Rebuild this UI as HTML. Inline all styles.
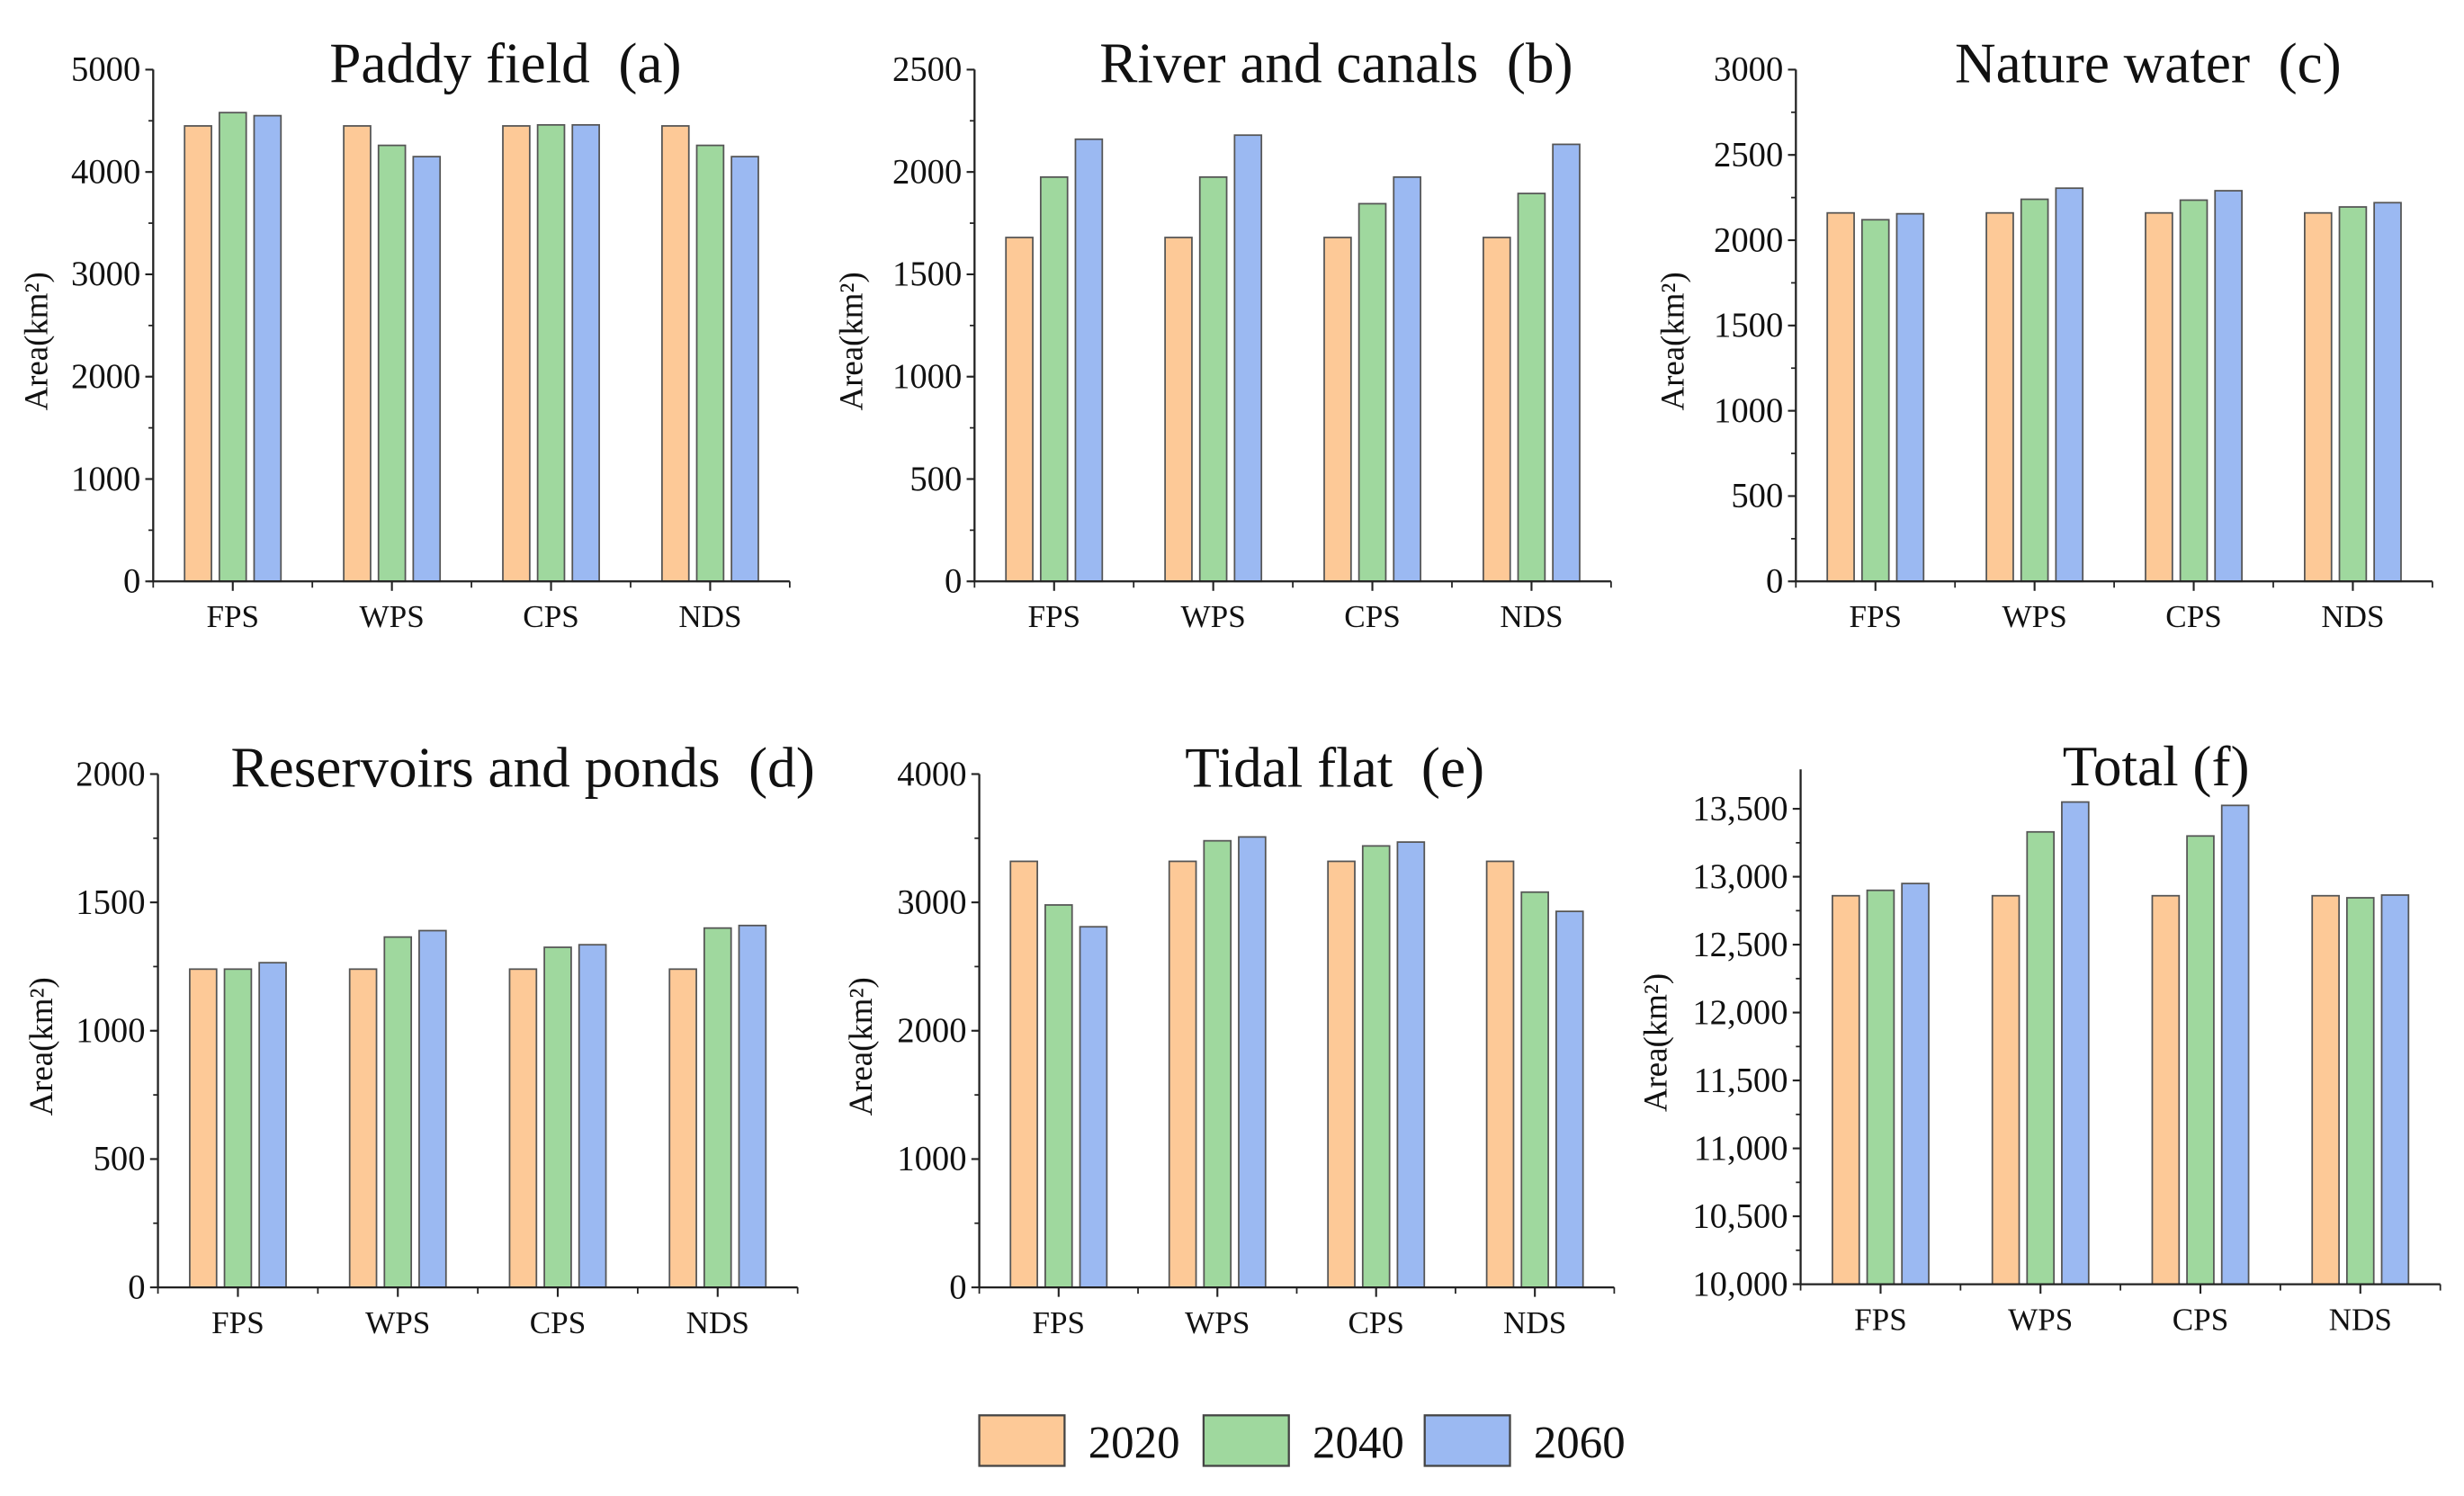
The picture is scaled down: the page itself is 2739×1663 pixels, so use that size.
<!DOCTYPE html>
<html><head><meta charset="utf-8"><style>
html,body{margin:0;padding:0;background:#fff;}
svg{display:block;font-family:"Liberation Serif",serif;}
</style></head><body>
<svg id="chart" width="2739" height="1663" viewBox="0 0 1560 947" xmlns="http://www.w3.org/2000/svg"></svg>
<script>
const categories = ["FPS","WPS","CPS","NDS"];
const seriesNames = ["2020","2040","2060"];
const colors = ["#fdc997","#9fd89e","#9bb9f2"];

const paddy2020 = [4450,4450,4450,4450];
const paddy2040 = [4580,4260,4460,4260];
const paddy2060 = [4550,4150,4460,4150];
const river2020 = [1680,1680,1680,1680];
const river2040 = [1975,1975,1845,1895];
const river2060 = [2160,2180,1975,2135];
const nature2020 = [2160,2160,2160,2160];
const nature2040 = [2120,2240,2235,2195];
const nature2060 = [2155,2305,2290,2220];
const reservoir2020 = [1240,1240,1240,1240];
const reservoir2040 = [1240,1365,1325,1400];
const reservoir2060 = [1265,1390,1335,1410];
const tidal2020 = [3320,3320,3320,3320];
const tidal2040 = [2980,3480,3440,3080];
const tidal2060 = [2810,3510,3470,2930];
const total2020 = [12860,12860,12860,12860];
const total2040 = [12900,13330,13300,12845];
const total2060 = [12950,13550,13525,12865];

const ticksA = ["0","1000","2000","3000","4000","5000"];
const ticksB = ["0","500","1000","1500","2000","2500"];
const ticksC = ["0","500","1000","1500","2000","2500","3000"];
const ticksD = ["0","500","1000","1500","2000"];
const ticksE = ["0","1000","2000","3000","4000"];
const ticksF = ["10,000","10,500","11,000","11,500","12,000","12,500","13,000","13,500"];

const panels = [
 {name:"paddy-field",title:"Paddy field  (a)",x0:97,x1:500,yTop:44,yBot:368,min:0,max:5000,step:1000,minor:500,ticks:ticksA,data:[paddy2020,paddy2040,paddy2060],axisTop:44,ylabX:30,tx:320},
 {name:"river-canals",title:"River and canals  (b)",x0:617,x1:1020,yTop:44,yBot:368,min:0,max:2500,step:500,minor:250,ticks:ticksB,data:[river2020,river2040,river2060],axisTop:44,ylabX:546,tx:846},
 {name:"nature-water",title:"Nature water  (c)",x0:1137,x1:1540,yTop:44,yBot:368,min:0,max:3000,step:500,minor:250,ticks:ticksC,data:[nature2020,nature2040,nature2060],axisTop:44,ylabX:1066,tx:1360},
 {name:"reservoirs-ponds",title:"Reservoirs and ponds  (d)",x0:100,x1:505,yTop:490,yBot:815,min:0,max:2000,step:500,minor:250,ticks:ticksD,data:[reservoir2020,reservoir2040,reservoir2060],axisTop:490,ylabX:33,tx:331},
 {name:"tidal-flat",title:"Tidal flat  (e)",x0:620,x1:1022,yTop:490,yBot:815,min:0,max:4000,step:1000,minor:500,ticks:ticksE,data:[tidal2020,tidal2040,tidal2060],axisTop:490,ylabX:552,tx:845},
 {name:"total",title:"Total (f)",x0:1140,x1:1545,yTop:512,yBot:813,min:10000,max:13500,step:500,minor:250,ticks:ticksF,data:[total2020,total2040,total2060],axisTop:487,ylabX:1055,tx:1365}
];

const svg = document.getElementById('chart');
const NS = "http://www.w3.org/2000/svg";
function mk(tag, attrs, parent){
  const e = document.createElementNS(NS, tag);
  for (const k in attrs) e.setAttribute(k, attrs[k]);
  parent.appendChild(e);
  return e;
}

panels.forEach(p => {
  const g = mk('g', {}, svg);
  
  
  const yScale = v => p.yBot - (v - p.min) / (p.max - p.min) * (p.yBot - p.yTop);
  const bw = (p.x1 - p.x0) / categories.length;
  const xCenter = i => p.x0 + bw * (i + 0.5);
  categories.forEach((c, i) => {
    p.data.forEach((arr, s) => {
      const cx = xCenter(i) + (s - 1) * 22;
      const y = yScale(arr[i]);
      const r = mk('rect', {x: cx - 8.5, y: y, width: 17, height: p.yBot - y, fill: colors[s], stroke: '#555', 'stroke-width': 1}, g);
      
      
    });
  });
  const ya = mk('line', {x1: p.x0, y1: p.axisTop, x2: p.x0, y2: p.yBot, stroke: '#222', 'stroke-width': 1.3}, g);
  
  
  const xa = mk('line', {x1: p.x0, y1: p.yBot, x2: p.x1, y2: p.yBot, stroke: '#222', 'stroke-width': 1.3}, g);
  
  
  for (let v = p.min; v <= p.max + 1e-6; v += p.minor) {
    const y = yScale(v);
    mk('line', {x1: p.x0 - 3, y1: y, x2: p.x0, y2: y, stroke: '#222', 'stroke-width': 1}, g);
  }
  p.ticks.forEach((t, k) => {
    const v = p.min + k * p.step;
    const y = yScale(v);
    mk('line', {x1: p.x0 - 5, y1: y, x2: p.x0, y2: y, stroke: '#222', 'stroke-width': 1.2}, g);
    const tl = mk('text', {x: p.x0 - 8, y: y + 7, 'font-size': 22, 'text-anchor': 'end', fill: '#111'}, g);
    tl.textContent = t;
    
    
  });
  for (let i = 0; i <= categories.length; i++) {
    const x = p.x0 + bw * i;
    mk('line', {x1: x, y1: p.yBot, x2: x, y2: p.yBot + 4, stroke: '#222', 'stroke-width': 1}, g);
  }
  categories.forEach((c, i) => {
    mk('line', {x1: xCenter(i), y1: p.yBot, x2: xCenter(i), y2: p.yBot + 6, stroke: '#222', 'stroke-width': 1.2}, g);
    const xl = mk('text', {x: xCenter(i), y: p.yBot + 29, 'font-size': 20, 'text-anchor': 'middle', fill: '#111'}, g);
    xl.textContent = c;
    
    
  });
  const ymid = (p.axisTop + p.yBot) / 2 + 10;
  const yl = mk('text', {x: p.ylabX, y: ymid, 'font-size': 21, 'text-anchor': 'middle', fill: '#111', transform: 'rotate(-90 ' + p.ylabX + ' ' + ymid + ')'}, g);
  yl.textContent = 'Area(km²)';
  
  
  const tt = mk('text', {x: p.tx, y: p.axisTop + (p.name === 'total' ? 10 : 8), 'font-size': 36, 'text-anchor': 'middle', fill: '#111'}, g);
  tt.style.whiteSpace = 'pre';
  tt.textContent = p.title;
  
  
});

const lg = mk('g', {}, svg);


const legX = [620, 762, 902];
seriesNames.forEach((s, i) => {
  const eg = mk('g', {}, lg);
  
  
  mk('rect', {x: legX[i], y: 896, width: 54, height: 32, fill: colors[i], stroke: '#444', 'stroke-width': 1.3}, eg);
  const t = mk('text', {x: legX[i] + 69, y: 923, 'font-size': 29, fill: '#111'}, eg);
  t.textContent = s;
});
</script>
</body></html>
